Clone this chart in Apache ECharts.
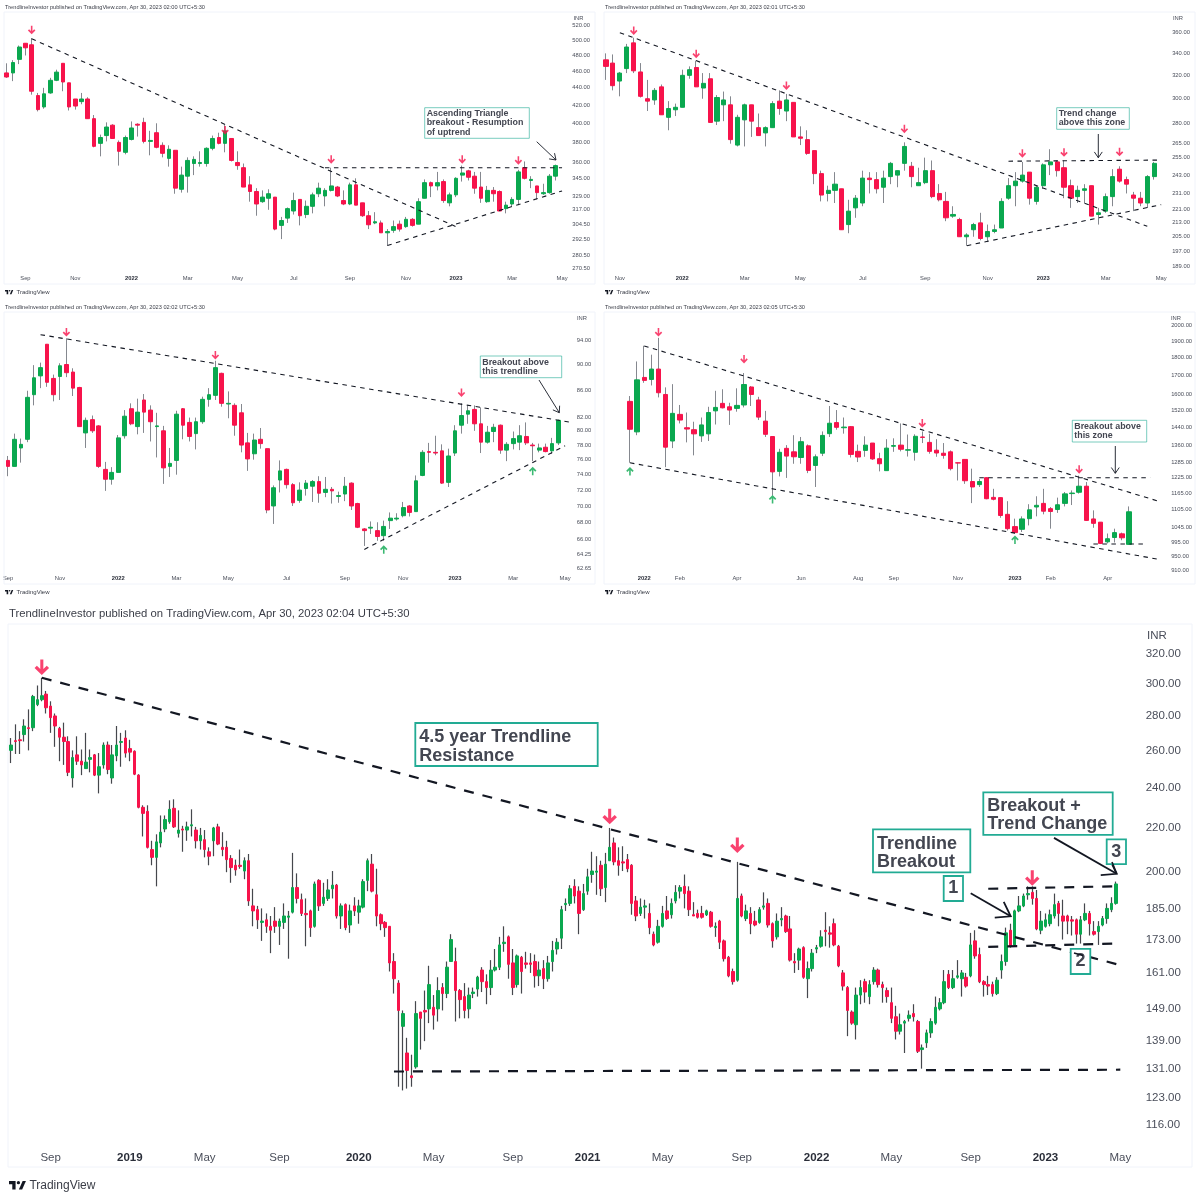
<!DOCTYPE html>
<html><head><meta charset="utf-8">
<style>html,body{margin:0;padding:0;background:#fff}#c{width:1200px;height:1200px}</style>
<script src="https://cdn.jsdelivr.net/npm/echarts@6/dist/echarts.min.js"></script>
</head><body><div id="c"></div>
<script>
// ---------- DATA: candles are [open, close, low, high] ----------
const p1Candles=[[458,453,452,470],[458,471,448,474],[475,491,469,493],[496,490,480,496],[494,436,432,503],[431,415,413,434],[418,433,416,440],[434,449,433,452],[449,459,448,462],[470,447,436,470],[446,418,414,446],[427,419,415,427],[424,427,421,434],[427,405,405,429],[405,376,375,409],[379,385,366,388],[387,396,381,401],[398,384,384,399],[380,371,357,382],[370,385,368,387],[383,395,382,402],[399,398,386,400],[401,381,379,406],[381,382,367,392],[390,375,374,400],[377,369,365,380],[364,373,356,377],[372,336,331,372],[335,348,332,356],[347,362,332,365],[359,363,348,366],[359,360,356,371],[359,374,356,375],[374,384,372,387],[385,379,378,390],[379,392,370,398],[384,362,361,384],[360,357,353,371],[355,337,337,359],[339,333,324,347],[333,322,312,336],[324,328,323,334],[327,331,317,335],[328,301,300,328],[304,308,293,311],[310,318,306,319],[316,325,313,332],[326,312,304,326],[313,320,310,325],[320,330,314,332],[331,336,328,341],[329,334,320,336],[334,338,333,355],[337,329,328,338],[325,322,321,334],[322,339,321,341],[339,321,321,345],[323,312,311,323],[312,304.5,301,316],[306,307,305,315],[306,298,298,308],[298,299,288,301],[300,303,298,308],[305,301,299,308],[303,309,302,311],[309,304,303,310],[305,324,305,327],[327,341,327,344],[341,338,328,342],[338,341,334,351],[342,325,323,344],[323,330,320,332],[330,345,328,346],[348,350,342,357],[352,346,343,353],[347,336,331,351],[337,327,323,351],[324,334,323,338],[334,331,324,337],[333,316,316,334],[318,321,314,324],[322,326,320,328],[326,351,321,353],[355,345,344,361],[343,344,336,347],[338,332,326,338],[331,332,330,340],[332,347,331,349],[347,357,343,358]];
const p1Ticks=[520,500,480,460,440,420,400,380,360,345,329,317,304.5,292.5,280.5,270.5];
const p1LabelAt=[3,11,20,29,37,46,55,64,72,81,89];
const p1LabelText=['Sep','Nov','2022','Mar','May','Jul','Sep','Nov','2023','Mar','May'];
const p1Lines=[[[4,502],[72,303]],[[51,355],[89,355]],[[61,288],[89,333.5]]];
const p1Down=[[4,514],[35,392.5],[52,363],[73,363],[82,362]];
const p1Up=[];

const p2Candles=[[334,328,316,340],[331,311,307,339],[315,322,302,323],[326,346,322,349],[350,324,322,355],[323,302,301,331],[300,298,290,316],[299,307,295,309],[310,287,287,312],[285,292,275,298],[291,293,286,296],[293,320,293,325],[320,325,317,328],[327,310,310,333],[309,313,300,322],[317,281,281,322],[282,301,279,303],[295,299,282,306],[295,268,265,302],[264,285,263,287],[283,295,263,296],[295,282,270,295],[277,271,271,288],[273,277,263,278],[277,296,277,298],[298,292,287,307],[290,299,282,304],[297,270,270,297],[270,269,264,278],[268,258,257,275],[260,244,237,260],[244,230,226,246],[231,233,226,236],[233,237,225,245],[234,209,209,234],[212,220,207,227],[222,228,216,230],[225,241,223,246],[241,240,231,245],[240,234,231,245],[235,241,225,246],[242,251,237,252],[243,246,235,246],[251,263,246,266],[249,242,235,252],[236,238,236,248],[238,246,237,255],[246,229,228,253],[231,227,226,237],[226,216,214,232],[217,218,216,223],[215,205,205,216],[205,206,200,207],[209,212,205,213],[213,204,203,219],[205,208,202,212],[208,209,207,212],[210,226,210,228],[228,236,227,241],[236,239,223,245],[239,243,238,252],[245,228,224,245],[226,235,224,236],[236,250,234,251],[250,252,243,261],[252,246,242,253],[248,235,228,253],[236,228,222,240],[229,233,225,236],[233,234,225,237],[236,217,217,236],[218,219,212,222],[220,229,219,231],[229,242,223,247],[247,239,238,249],[240,237,231,242],[230,228,220,232],[228,225,223,232],[225,242,222,243],[242,251,240,252]];
const p2Ticks=[360,340,320,300,280,265,255,243,231,221,213,205,197,189];
const p2LabelAt=[2,11,20,28,37,46,55,63,72,80];
const p2LabelText=['Nov','2022','Mar','May','Jul','Sep','Nov','2023','Mar','May'];
const p2Lines=[[[2,360],[78,211]],[[58,252.5],[80,253.3]],[[52,200],[80,224]]];
const p2Down=[[4,362],[13,339.5],[26,311],[43,276],[60,258],[66,258.6],[74,259]];
const p2Up=[];

const p3Candles=[[75.9,75.1,73.8,76.5],[75.1,78.8,75.1,79.6],[77.6,78.1,75.6,78.9],[78.8,84.9,78.4,85.9],[85.3,87.9,83.7,89.9],[88.2,89.5,86.3,90.3],[93.3,87.2,86.5,93.3],[87.8,85.3,84.3,88.4],[88.1,89.8,84.5,90.2],[90,88.7,88,94.3],[88.8,86.3,85.1,89.4],[86.4,80.6,80.6,86.5],[79.7,81.5,77.6,81.9],[81.6,80,79.7,82.2],[80.7,75.1,74.9,80.8],[74.7,73.4,71.9,75.7],[73.4,74.3,72.7,75],[74.3,79,74.3,79.4],[79.3,82.1,78.9,83],[83.2,81,80.8,84],[80.6,82.7,79.5,84.7],[84.5,82.7,79.7,85.4],[83,81.3,78.5,83.7],[80.6,80.7,76.3,82.6],[80,74.9,72.8,80.7],[75.1,75.5,73.7,77.6],[75.9,82.4,74,82.9],[83.2,80.8,78.8,83.3],[81.2,79.2,78.5,81.9],[79.6,81.3,77.4,81.9],[81.3,84.6,81,85],[84.6,85.3,83.5,86.3],[85.2,89.5,84.5,90.6],[88.6,84,83.5,88.7],[83.9,84,81.8,85.8],[83.7,80.8,79.3,84],[82.6,78,77,83.9],[78.3,76.1,74.5,79.7],[76.8,78.7,76,79.6],[78.8,78.2,77.5,80.4],[77.5,69.5,69.1,77.5],[70,72.3,67.8,72.6],[73.3,74.5,71.7,75.9],[74.7,72.7,72.2,74.8],[72.7,70.4,70,72.9],[70.7,72,70.4,73],[72.2,72.9,71.3,73.3],[72.5,73.1,70.5,73.3],[73.1,71.6,70.4,73.8],[71.7,72.1,71.1,73.7],[72.1,71.9,70.3,72.4],[71.2,71.3,70.4,71.8],[71.5,72.5,70.6,73.7],[72.9,70,69.5,73],[70.3,67.4,67.3,70.4],[67.2,67,65.2,67.3],[67.3,67.4,66.6,68.1],[67,66.3,65.8,68],[66.4,67.5,65.8,68.2],[68.2,68.5,67.2,69.2],[68.4,68.5,68.2,69.1],[68.8,69.8,68.6,70.5],[70,69.2,68.7,70.1],[69.3,73.2,69.3,73.9],[73.9,77,73.8,77.3],[77.1,77,75.6,78.3],[77,76.9,76.6,79.3],[77.2,72.9,72.8,78.1],[73,76.5,72.4,77.5],[76.9,80,76.5,80.8],[80.8,82.2,79.6,84],[82.4,82.9,81,83.6],[83.1,81,80,83.7],[81,78.4,76.9,83.4],[78.4,79.8,78.2,80.7],[79.9,80.5,78.4,81],[80.8,77.3,76.8,80.9],[77.3,78.1,75.8,78.4],[78.2,78.9,77.4,79.9],[78.4,79.3,77.3,80.8],[79.2,78.3,78,81.2],[78,77.9,75.8,78.3],[77.3,77.6,77,78.2],[77.7,77.1,77,78.2],[77.2,78.2,76.8,79],[78.3,81.5,78,81.6]];
const p3Ticks=[94,90,86,82,80,78,76,74,72,70,68,66,64.25,62.65];
const p3LabelAt=[0,8,17,26,34,43,52,61,69,78,86];
const p3LabelText=['Sep','Nov','2022','Mar','May','Jul','Sep','Nov','2023','Mar','May'];
const p3Lines=[[[5,94.9],[87,81.2]],[[55,64.8],[86,77.9]]];
const p3Down=[[9,95.3],[32,91.5],[70,85.6]];
const p3Up=[[58,64.8],[81,74.5]];

const p4Candles=[[1565,1431,1285,1592],[1419,1677,1404,1779],[1690,1674,1661,1871],[1679,1736,1647,1818],[1736,1609,1585,1919],[1600,1351,1267,1637],[1378,1506,1347,1654],[1501,1474,1458,1547],[1438,1432,1372,1510],[1429,1410,1316,1466],[1401,1451,1374,1486],[1410,1510,1378,1538],[1518,1535,1453,1619],[1555,1533,1530,1627],[1538,1522,1451,1558],[1530,1545,1514,1632],[1547,1652,1535,1714],[1639,1600,1542,1644],[1572,1488,1474,1588],[1469,1408,1396,1518],[1398,1248,1157,1398],[1250,1329,1230,1344],[1346,1313,1224,1360],[1331,1310,1281,1404],[1307,1375,1281,1396],[1357,1254,1243,1363],[1274,1310,1189,1320],[1325,1403,1313,1421],[1411,1459,1396,1542],[1462,1440,1429,1522],[1438,1441,1411,1486],[1443,1320,1307,1445],[1333,1309,1288,1362],[1337,1360,1310,1399],[1369,1301,1297,1369],[1302,1281,1250,1327],[1253,1347,1253,1386],[1355,1358,1331,1390],[1360,1342,1333,1458],[1338,1340,1311,1407],[1329,1399,1294,1408],[1396,1394,1369,1421],[1372,1333,1323,1411],[1338,1326,1310,1386],[1325,1316,1302,1369],[1331,1261,1254,1337],[1285,1284,1214,1286],[1299,1213,1201,1299],[1210,1189,1129,1261],[1198,1210,1189,1220],[1225,1145,1143,1226],[1150,1143,1139,1182],[1149,1085,1077,1149],[1089,1040,1034,1136],[1047,1027,1024,1074],[1038,1073,1029,1082],[1074,1105,1051,1125],[1115,1121,1082,1154],[1128,1100,1089,1182],[1109,1099,1040,1115],[1106,1123,1094,1149],[1128,1163,1117,1170],[1164,1166,1122,1176],[1169,1192,1164,1233],[1192,1068,1066,1208],[1073,1058,1043,1103],[1062,992,990,1062],[997,1007,992,1024],[1011,1027,995,1040],[1023,1010,1002,1027],[989,1098,987,1117]];
const p4Ticks=[2000,1900,1800,1700,1600,1520,1440,1360,1285,1225,1165,1105,1045,995,950,910];
const p4LabelAt=[2,7,15,24,32,37,46,54,59,67];
const p4LabelText=['2022','Feb','Apr','Jun','Aug','Sep','Nov','2023','Feb','Apr'];
const p4Lines=[[[2,1870],[74,1137]],[[0,1285],[74,943]],[[49,1225],[73,1225]],[[65,990],[72,990]]];
const p4Down=[[4,1953],[16,1792],[41,1459],[63,1258]];
const p4Up=[[0,1251],[20,1143],[54,1004]];

const p5Candles=[[260,263,253,267],[265.5,265,258,275],[266,265.5,258,271],[269,274,265,278],[273,272.5,260,284],[273,292,271,293],[287,290,286,299],[290,292.5,289,304],[293.5,285,281.5,295.5],[286,279,270,289],[280,274,262,281.5],[272.5,267.5,254,273.5],[267.5,265,252,276],[265,248,246,268],[245,256,240,260],[257.5,254,252,268],[254,252,246.5,260.5],[250,253.5,250,270],[255,256,248,260.5],[257.5,246.5,246,258],[246.5,251,237,258.5],[252,263,250,264.5],[263,249.5,247,265],[245,257.5,242,263],[257,263,254,274],[264.5,265,251,270],[267,258.5,256,271.5],[261,259,254,266],[259.5,247,246.5,260],[246.5,230,229.5,247],[230,227,216,231],[228,211,210.5,231],[210,206.5,203,214],[206.5,213.5,194,217],[213,218,211,226],[219.5,224,218,226],[223,229,222,233.5],[229.5,220.5,220,234],[217.5,219,215.5,228.5],[219.5,219,209,221],[219,220.5,214,223],[221,221.5,216,229],[219,214,210.5,220.5],[214,216.5,210,220],[214.5,210,206.5,219],[209,207,203,211],[214,220,207,220.5],[220.5,212.5,212,222],[211,210,207,218],[211,205.5,200,214],[206,202,195.5,207.5],[203,201,198.5,205.5],[203,202.5,201.5,210],[200.5,205,197,206.5],[205,188,186,208],[186,184,178,193],[184.5,180.5,177,186],[179.5,180,172.5,185],[180.5,178,175.5,183],[178,176.5,168,182],[180,178,175.5,185.5],[178,180,171,181],[179.5,182,177,187],[181.5,182,166,184],[183.5,193.5,183,208.5],[193.5,189,187,199.5],[188.5,183,182,191],[183,182.5,170.5,189],[184,177.5,174,184.5],[178,195,177.5,196],[196.5,186,184,197],[187,189.5,186,195.5],[189,192.5,188,197],[193,194.5,189,200.5],[194.5,182,181,195],[182,186,177,187],[186.5,177.5,176.5,187],[178.5,184,175.5,186.5],[186,184,182,189.5],[183.5,186,179,188.5],[185.5,196,185,197],[196.5,205,192,206],[203.5,192,191.5,208],[190.5,182,178,201.5],[182.5,179,176.5,183],[179.5,177.5,174,180],[178,164.5,161.5,178],[165,159,154,168],[157.5,148.5,126,158.5],[143.5,147.5,125,148.5],[135.5,130.5,125.5,140],[129,128.5,126,135],[131.5,147.5,131,151.5],[148,146,136.5,148],[148.5,148,139,155],[149,157,144.5,163.5],[149.5,147,142.5,153.5],[149,155,145,159.5],[156,154,148.5,157.5],[154,163,152.5,165],[165,173,165,175],[165,155,145,170],[155,152,146,155.5],[153,148.5,146,157.5],[149,153.5,146,156],[154,154.5,152.5,156],[155.5,159.5,153,160],[162,158,154.5,163],[158,156,150.5,160.5],[156,162,153.5,165.5],[162,163,161.5,169.5],[163,171,162,174],[171.5,172,168.5,178],[174,164,159,174.5],[164.5,156,153.5,169.5],[157,167,156,167.5],[166.5,161.5,154,167],[164.5,164,162.5,168.5],[164.5,164,161,168],[165,160,156,167.5],[160,162,156.5,165],[162.5,159,155.5,165.5],[159,164.5,158,167],[165,169,161.5,172.5],[169.5,172,167.5,173.5],[173.5,184.5,169.5,186],[186.5,187,184,189],[187,193,186,194.5],[194,190,187,197],[192,183,175,194],[184.5,191,184,195],[192,198,190.5,201.5],[199,200.5,195.5,209],[200,200.5,190.5,207],[203,193,190,205],[193.5,203.5,187.5,208.5],[205,211,205,220],[213,204.5,203,215.5],[205,203,198.5,211],[204.5,204,200.5,211.5],[205.5,201.5,200,208],[203,187,182.5,203.5],[188,182,180,190],[183,185.5,182,189],[185.5,186,181,188.5],[183,177.5,175,187],[175,171,170.5,176],[172,178,171.5,180.5],[178,183,177.5,186],[184,181,180.5,190],[182.5,187,181,189],[188,191.5,187,194.5],[192,193.5,189,194.5],[194,191,185,199],[192,184.5,182,194],[182.5,182,182,187.5],[183,181.5,181,184.5],[183,181.5,181,186],[182.5,184,182,184.5],[183.5,178,177.5,184],[177.5,178,174,179.5],[180,172,169.5,180.5],[172.5,166,165,173],[166.5,160,159.5,167],[161.5,158,157,162.5],[158.5,189,158,204.5],[190,182,181.5,191],[181,184,180,186.5],[183,179,175,185.5],[180,178.5,178,184],[179.5,184.5,179,185.5],[185.5,186,184.5,191.5],[187,178.5,177.5,189],[179,172.5,170,179.5],[174,180,173,183],[180.5,181,178,185.5],[182,176,175.5,182.5],[177,165.5,165,182],[165,164.5,161,168],[165.5,169.5,162,170],[170,159.5,159,170.5],[159,162.5,152.5,165],[162.5,168,161.5,169.5],[169.5,170,168,171],[170.5,174,170,176.5],[176.5,176,170.5,183.5],[175.5,175,170,178],[179,171,170.5,181],[170.5,163.5,163,171],[161,156.5,155,162],[156,148.5,140.5,156.5],[148,144.5,144,148.5],[144,153.5,139.5,156],[153.5,156,150.5,158.5],[158,154.5,151,159],[153,157,150.5,158.5],[158,162,157,163],[162,157,156,162.5],[157,156,151,158],[155,153,151,156],[151,146,144.5,156],[146.5,142,139.5,150],[142,144,141,147.5],[144.5,145,135.5,145.5],[146,147,145,148.5],[147.5,146.5,145,150.5],[145,136,135.5,145.5],[136.5,137,131,138],[138.5,141.5,137,142.5],[141.5,145,140,146],[144.5,149.5,144,153],[149,151,148.5,152.5],[151,158,150.5,162],[160.5,156,155.5,162],[156,159,155.5,162],[159.5,160,159,165.5],[159,161,153,162],[159.5,156.5,156,161],[160,171,159.5,175.5],[172.5,167,166,176.5],[167.5,158,157.5,170],[158,157,153,158.5],[157,156.5,153.5,160],[157,154,153,158],[154,158.5,153.5,159.5],[162,165,159,167.5],[165,175.5,163.5,177.5],[176.5,170.5,170,179],[171,184,170.5,184.5],[184,186,183.5,190],[186,190,185.5,191],[190.5,191,188.5,194],[191.5,189,186.5,194],[189,177,176.5,192.5],[176.5,180,175,184],[178,180.5,177.5,183],[179,182.5,178,184.5],[182,186.5,181,191],[187,183,178,188],[182,180,173,188.5],[182,180,175,182.5],[180.5,180,174.5,182],[180.5,175,171.5,181],[175,180.5,171.5,182],[180.5,183,180,187],[183,179,174.5,184],[176,175,174.5,180],[176,178,171,180],[178.5,181,178,182],[181,185,179,187],[184.5,187,183.5,189.5],[187,195,186.5,196]];
const p5Ticks=[320,300,280,260,240,220,200,185,173,161,149,139,131,123,116];
const p5LabelAt=[9,27,44,61,79,96,114,131,148,166,183,200,218,235,252];
const p5LabelText=['Sep','2019','May','Sep','2020','May','Sep','2021','May','Sep','2022','May','Sep','2023','May'];
const p5Lines=[[[7,304],[252,163.7]],[[87,130.2],[252,130.7]],[[222,193],[251,194]],[[222,170.3],[251,171.5]]];
const p5Down=[[7,311],[136,225.5],[165,212],[232,197.5]];
const p5Up=[];

// ---------- STYLE / LAYOUT ----------
const GREEN='#0aa84f',RED='#f7134b',TEAL='#22ab94',INK='#434651',AXIS='#4a4e5a';
const FONT='"Liberation Sans",Arial,sans-serif';
const DOWN='path://M8,0 H12 V13 L16.5,8.5 L19.5,11.5 L10,21 L0.5,11.5 L3.5,8.5 L8,13 Z';
const UP='path://M8,21 H12 V8 L16.5,12.5 L19.5,9.5 L10,0 L0.5,9.5 L3.5,12.5 L8,8 Z';
const panels=[
 {c:p1Candles,t:p1Ticks,la:p1LabelAt,lt:p1LabelText,ln:p1Lines,d:p1Down,u:p1Up,off:0,n:90,left:3.58,step:6.24,top:12,h:260,min:268.2,max:539.5,bw:4.2,fs:5.8,lm:7,as:[7.5,8.5],wick:'#85888f',dw:1,ds:[4.5,4.5],wl:1.1},
 {c:p2Candles,t:p2Ticks,la:p2LabelAt,lt:p2LabelText,ln:p2Lines,d:p2Down,u:p2Up,off:0,n:81,left:602.5,step:6.94,top:12,h:260,min:186,max:381.1,bw:4.6,fs:5.8,lm:7.5,as:[7.5,8.5],wick:'#85888f',dw:1,ds:[4.5,4.5],wl:1.1},
 {c:p3Candles,t:p3Ticks,la:p3LabelAt,lt:p3LabelText,ln:p3Lines,d:p3Down,u:p3Up,off:0,n:88,left:1.04,step:6.52,top:312,h:260,min:62.25,max:98.8,bw:4.2,fs:5.8,lm:2,as:[7.5,8.5],wick:'#85888f',dw:1,ds:[4.5,4.5],wl:1.1},
 {c:p4Candles,t:p4Ticks,la:p4LabelAt,lt:p4LabelText,ln:p4Lines,d:p4Down,u:p4Up,off:3,n:78,left:605,step:7.13,top:312,h:260,min:905,max:2085,bw:4.8,fs:5.8,lm:10,as:[7.5,8.5],wick:'#85888f',dw:1,ds:[4.5,4.5],wl:1.1},
 {c:p5Candles,t:p5Ticks,la:p5LabelAt,lt:p5LabelText,ln:p5Lines,d:p5Down,u:p5Up,off:0,n:256,left:8.8,step:4.402,top:625,h:521,min:110.9,max:340.6,bw:3,fs:11.5,lm:10,as:[14.5,15.5],wick:'#45474d',dw:1.2,ds:[10,9],wl:2.2}
];
const grids=[],xs=[],ys=[],series=[];
panels.forEach((p,i)=>{
  grids.push({left:p.left,top:p.top,width:p.step*p.n,height:p.h,containLabel:false});
  const cats=new Array(p.n).fill('');
  p.la.forEach((a,k)=>{cats[a+p.off]=p.lt[k];});
  xs.push({type:'category',gridIndex:i,data:cats,boundaryGap:true,axisLine:{show:false},axisTick:{show:false},splitLine:{show:false},
    axisLabel:{interval:0,margin:i===4?6:3,fontSize:p.fs,color:AXIS,fontFamily:FONT,
      formatter:v=>/^\d{4}$/.test(v)?'{y|'+v+'}':v,rich:{y:{fontWeight:'bold',fontSize:p.fs,color:'#2a2e39',fontFamily:FONT}}}});
  ys.push({type:'log',gridIndex:i,position:'right',min:p.min,max:p.max,axisLine:{show:false},axisTick:{show:false},splitLine:{show:false},
    axisLabel:{customValues:p.t,margin:p.lm,fontSize:p.fs,color:AXIS,fontFamily:FONT,formatter:v=>Number(v).toFixed(2)}});
  const pad=new Array(p.off).fill(['-','-','-','-']);
  const base={type:'candlestick',xAxisIndex:i,yAxisIndex:i,animation:false,silent:true};
  series.push(Object.assign({},base,{name:'wick'+i,z:2,barWidth:0.5,itemStyle:{color:p.wick,color0:p.wick,borderColor:p.wick,borderColor0:p.wick,borderWidth:p.dw},
    data:pad.concat(p.c).map(d=>d.slice())}));
  series.push(Object.assign({},base,{name:'body'+i,z:3,barWidth:p.bw,itemStyle:{color:GREEN,color0:RED,borderColor:GREEN,borderColor0:RED,borderWidth:1},
    data:pad.concat(p.c).map(d=>d[0]==='-'?d.slice():[d[0],d[1],Math.min(d[0],d[1]),Math.max(d[0],d[1])])}));
  p.ln.forEach((l,k)=>series.push({type:'line',name:'line'+i+'_'+k,xAxisIndex:i,yAxisIndex:i,z:4,animation:false,silent:true,showSymbol:false,symbol:'none',
    lineStyle:{color:'#131722',width:p.wl,type:p.ds},data:l.map(q=>[q[0]+p.off,q[1]])}));
  if(p.d.length)series.push({type:'scatter',name:'down'+i,xAxisIndex:i,yAxisIndex:i,z:5,animation:false,silent:true,symbol:DOWN,symbolSize:p.as,itemStyle:{color:RED},data:p.d.map(q=>[q[0]+p.off,q[1]])});
  if(p.u.length)series.push({type:'scatter',name:'up'+i,xAxisIndex:i,yAxisIndex:i,z:5,animation:false,silent:true,symbol:UP,symbolSize:p.as,itemStyle:{color:GREEN},data:p.u.map(q=>[q[0]+p.off,q[1]])});
});

// ---------- ANNOTATIONS ----------
const g=[];
function frame(x,y,w,h){g.push({type:'rect',shape:{x:x,y:y,width:w,height:h},style:{fill:'none',stroke:'#f0f3fa',lineWidth:1},z:1});}
function txt(x,y,s,size,fill,bold){g.push({type:'text',x:x,y:y,z:20,style:{text:s,fill:fill,font:(bold?'bold ':'')+size+'px '+FONT,textVerticalAlign:'middle'}});}
function logo(x,y,s,size){
  g.push({type:'group',x:x,y:y,scaleX:s,scaleY:s,z:20,children:[
   {type:'polygon',shape:{points:[[0,0],[14,0],[14,18],[7,18],[7,7],[0,7]]},style:{fill:'#131722'}},
   {type:'circle',shape:{cx:20,cy:3.5,r:3.5},style:{fill:'#131722'}},
   {type:'polygon',shape:{points:[[21,18],[29,0],[36,0],[28,18]]},style:{fill:'#131722'}}]});
  txt(x+37*s+3,y+9*s,'TradingView',size,'#3a3d47',false);
}
function box(x0,y0,x1,y1,s,size,lw,center,dx,dy){
  g.push({type:'rect',shape:{x:x0,y:y0,width:x1-x0,height:y1-y0},style:{fill:'#fff',stroke:TEAL,lineWidth:lw,opacity:lw<1.5?0.6:1},z:15});
  g.push({type:'text',z:16,x:center?(x0+x1)/2:x0+size*0.22+(dx||0),y:(y0+y1)/2+(dy||0),style:{text:s,fill:INK,font:'bold '+size+'px '+FONT,lineHeight:size*1.02,textAlign:center?'center':'left',textVerticalAlign:'middle'}});
}
function arrow(x0,y0,x1,y1,head,lw){
  const a=Math.atan2(y1-y0,x1-x0),sp=0.6;
  g.push({type:'polyline',z:14,shape:{points:[[x0,y0],[x1,y1]]},style:{stroke:'#131722',lineWidth:lw,fill:'none'}});
  g.push({type:'polyline',z:14,shape:{points:[[x1-head*Math.cos(a-sp),y1-head*Math.sin(a-sp)],[x1,y1],[x1-head*Math.cos(a+sp),y1-head*Math.sin(a+sp)]]},style:{stroke:'#131722',lineWidth:lw,fill:'none'}});
}
frame(4,12,591,272);frame(604,12,591,272);frame(4,312,591,272);frame(604,312,591,272);frame(8,624,1184,543);
const hdr=t=>'TrendlineInvestor published on TradingView.com, Apr 30, 2023 '+t+' UTC+5:30';
txt(5,7,hdr('02:00'),5.65,'#3a3d47');txt(605,7,hdr('02:01'),5.65,'#3a3d47');txt(5,307,hdr('02:02'),5.65,'#3a3d47');txt(605,307,hdr('02:05'),5.65,'#3a3d47');txt(9,614,hdr('02:04'),11.3,'#3a3d47');
txt(573.5,18,'INR',5.8,AXIS);txt(1173,18,'INR',5.8,AXIS);txt(577,318,'INR',5.8,AXIS);txt(1171,318,'INR',5.8,AXIS);txt(1147,636,'INR',11.5,AXIS);
logo(5,290,0.23,6);logo(605,290,0.23,6);logo(5,590,0.23,6);logo(605,590,0.23,6);logo(9,1181,0.47,12);
box(424.7,107.7,529.3,138.3,'Ascending Triangle\nbreakout - Resumption\nof uptrend',8.9,1);
box(1056.7,107.7,1129.3,129.3,'Trend change\nabove this zone',8.9,1);
box(480.3,356,561.7,377.7,'Breakout above\nthis trendline',8.9,1);
box(1072.3,420.3,1146.7,442,'Breakout above\nthis zone',8.9,1);
arrow(536.7,141.7,556,160,7,0.9);arrow(1098.3,134,1098.3,157.7,7,0.9);arrow(539,380,559.3,412.7,7,0.9);arrow(1115.3,446,1115.3,473.3,7,0.9);
box(415.3,723,597.7,766,'4.5 year Trendline\nResistance',18,1.8,false,0,2);
box(873,829.4,970.3,872.3,'Trendline\nBreakout',18,1.8,false,0,2);
box(943.7,876,963,901,'1',18,1.8,true);
box(983.3,792.3,1112.7,834.8,'Breakout +\nTrend Change',18,1.8,false,0,1.5);
box(1106.7,839.4,1126,864.2,'3',18,1.8,true);
box(1070.7,948.8,1090.3,974,'2',18,1.8,true);
arrow(970.7,893.3,1010.7,916.3,16,1.8);arrow(1054,837.9,1116.7,873.8,16,1.8);
g.push({type:'polyline',z:17,shape:{points:[[1112,862],[1116.7,873.8]]},style:{stroke:'#131722',lineWidth:1.6,fill:'none'}});
g.push({type:'polyline',z:17,shape:{points:[[1074,953],[1083,955.5]]},style:{stroke:'#131722',lineWidth:1.6,fill:'none'}});

const chart=echarts.init(document.getElementById('c'),null,{renderer:'canvas'});
chart.setOption({animation:false,backgroundColor:'#fff',grid:grids,xAxis:xs,yAxis:ys,series:series,graphic:{elements:g}});
</script></body></html>
